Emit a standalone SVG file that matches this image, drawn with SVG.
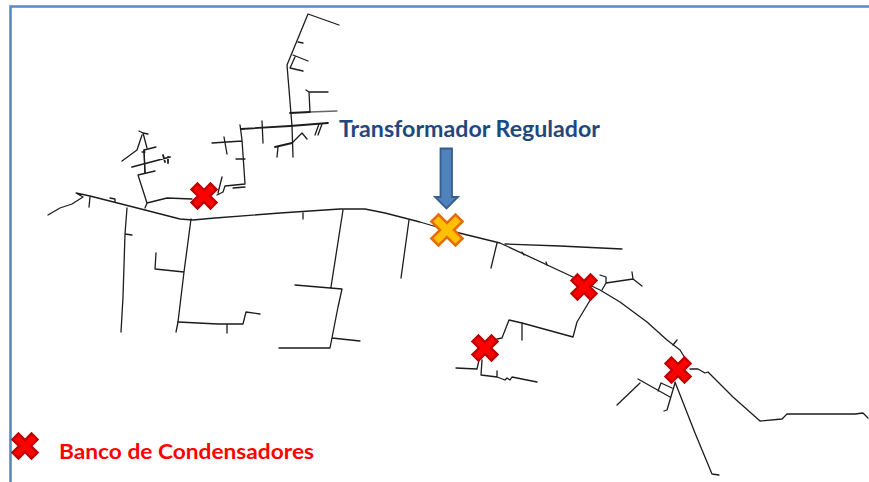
<svg xmlns="http://www.w3.org/2000/svg" width="869" height="482" viewBox="0 0 869 482">
<style>
.w{fill:none;stroke:#1c1c1c;stroke-width:1.3;stroke-linejoin:round;stroke-linecap:round}
.t{stroke-width:1.8}
.g{stroke:#666}
.r{fill:#f00;stroke:#c00000;stroke-width:2.4;stroke-linejoin:miter}
.o{fill:#ffc000;stroke:#e46c0a;stroke-width:2.6;stroke-linejoin:miter}
text{font-family:Lato,"Open Sans","Liberation Sans",sans-serif;font-weight:700}
</style>
<defs>
<polygon id="x" points="-6.500,-12.500 0,-6 6.500,-12.500 12.500,-6.500 6,0 12.500,6.500 6.500,12.500 0,6 -6.500,12.500 -12.500,6.500 -6,0 -12.500,-6.500"/>
<polygon id="xo" points="-8.500,-15.500 0,-7 8.500,-15.500 15.500,-8.500 7,0 15.500,8.500 8.500,15.500 0,7 -8.500,15.500 -15.500,8.500 -7,0 -15.500,-8.500"/>
</defs>
<path id="frame" d="M10.500,482V6.500H869" fill="none" stroke="#5b87c5" stroke-width="2.600"/>
<g id="connectors">
<path class="w" d="M48,215L60,208L72,204L83,197L76,193L90,196L145,210L180,219L193,220L215,218L280,213L340,209L365,209L385,213L420,222L447,230L500,243L573,277L600,290L620,302L647,322L667,340L680,350L685,358L678,370"/>
<path class="w" d="M90,197L89,207M110,198L115,199L115,202"/>
<path class="w" d="M127,208L125,234L123,297L121,332M125,234L132,235"/>
<path class="w" d="M191,219L184,272L178,322L176,332M184,272L155,269L156,253"/>
<path class="w" d="M178,322L218,324L243,324L246,312L260,314M227,324L227,333"/>
<path class="w" d="M303,213L303,219M343,210L331,287M295,285L342,289L338,307L330,348L279,348M332,338L360,341"/>
<path class="w" d="M409,220L401,278M497,243L491,268"/>
<path class="w" d="M505,244L560,246L622,249"/>
<path class="w" d="M522,252L524,255M546,262L547,265"/>
<path class="w" d="M145,208L147,203L167,198L192,199M147,203L138,175L155,171M145,173L144,150L156,147M142,152L145,152"/>
<path class="w t" d="M132,167L170,157M163,155L165,162M168,157L168,163"/>
<path class="w" d="M147,148L143,133L139,131M143,133L148,134M142,135L137,150L122,161M145,173L144,150"/>
<path class="w" d="M217,195L223,192L225,186L245,184L242,140L240,125M233,188L245,187M218,193L222,177M236,159L245,159M212,143L242,141M224,137L227,154M262,121L263,143"/>
<path class="w t" d="M241,129L290,126L328,123"/>
<path class="w" d="M292,126L293,157M292,126L287,65L308,14L339,25"/>
<path class="w t" d="M290,113L310,112"/>
<path class="w g" d="M310,112L337,111"/>
<path class="w" d="M310,112L309,92L328,92M306,90L309,92M315,135L319,124M318,135L322,124"/>
<path class="w" d="M298,42L303,43M293,55L308,61M295,57L290,68L303,71"/>
<path class="w t" d="M275,147L292,143"/>
<path class="w" d="M292,143L302,133L307,139M278,147L277,157"/>
<path class="w" d="M592,297L577,322L573,337L522,323L509,320L502,338L497,339M522,323L522,340"/>
<path class="w" d="M456,368L477,369L479,360M482,360L481,375L497,377L497,371M497,377L505,380L507,378L510,380L512,377L537,382"/>
<path class="w" d="M602,290L606,283L606,277L600,275M606,283L633,279L632,272M633,279L642,286"/>
<path class="w" d="M673,345L677,340M690,369L698,369L705,373L708,372L733,397L760,421L782,419L787,414L855,414L863,413L868,418"/>
<path class="w" d="M675,382L695,433L712,474L719,475"/>
<path class="w" d="M675,383L667,410L664,411M638,379L670,397M640,383L617,405M658,391L661,383L672,388"/>
</g>
<g id="cap-1"><use href="#x" class="r" x="204" y="196"/></g>
<g id="regulador"><use href="#xo" class="o" x="447" y="230"/></g>
<g id="cap-2"><use href="#x" class="r" x="584" y="287"/></g>
<g id="cap-3"><use href="#x" class="r" x="485" y="348"/></g>
<g id="cap-4"><use href="#x" class="r" x="678" y="370"/></g>
<g id="arrow"><polygon points="440.500,148.500 452,148.500 452,197 458,197 446.500,208.500 435,197 440.500,197" fill="#4f81bd" stroke="#385d8a" stroke-width="1.800"/></g>
<g id="label-regulador"><text x="339" y="137" font-size="22" fill="#1f497d" textLength="261" lengthAdjust="spacingAndGlyphs">Transformador Regulador</text></g>
<g id="legend"><use href="#x" class="r" x="25" y="446"/>
<text x="59" y="459" font-size="21.500" fill="#f00" textLength="255" lengthAdjust="spacingAndGlyphs">Banco de Condensadores</text></g>
</svg>
